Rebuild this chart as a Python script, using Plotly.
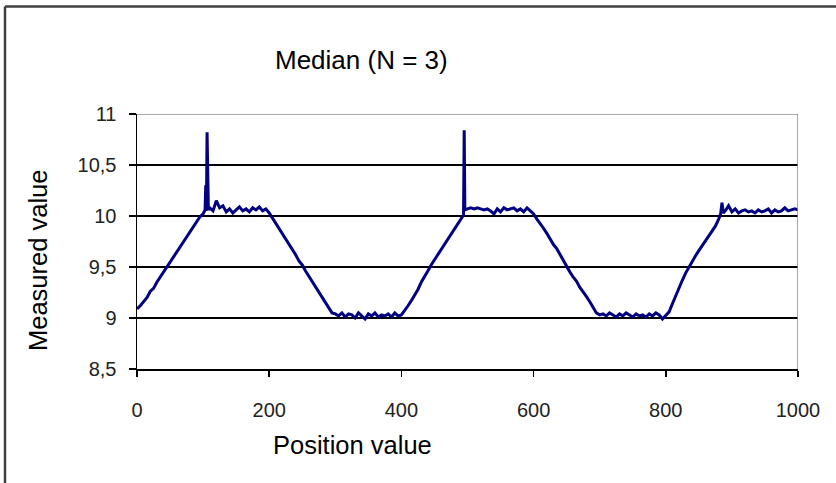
import plotly.graph_objects as go

position = [
    0, 5, 10, 15, 20, 25, 30, 35, 40, 45, 50, 55, 60, 65, 70, 75, 80, 85, 90, 95, 100,
    102, 103, 104, 105, 106, 107, 108, 110, 115, 120, 125, 130, 135, 140, 145, 150,
    155, 160, 165, 170, 175, 180, 185, 190, 195, 200,
    205, 210, 215, 220, 225, 230, 235, 240, 245, 250, 255, 260, 265, 270, 275, 280,
    285, 290, 295, 300,
    305, 310, 315, 320, 325, 330, 335, 340, 345, 350, 355, 360, 365, 370, 375, 380,
    385, 390, 395, 400,
    405, 410, 415, 420, 425, 430, 435, 440, 445, 450, 455, 460, 465, 470, 475, 480,
    485, 490, 494, 495, 496,
    500, 505, 510, 515, 520, 525, 530, 535, 540, 545, 550, 555, 560, 565, 570, 575,
    580, 585, 590, 595, 600,
    605, 610, 615, 620, 625, 630, 635, 640, 645, 650, 655, 660, 665, 670, 675, 680,
    685, 690, 695, 700,
    705, 710, 715, 720, 725, 730, 735, 740, 745, 750, 755, 760, 765, 770, 775, 780,
    785, 790, 795, 800,
    805, 810, 815, 820, 825, 830, 835, 840, 845, 850, 855, 860, 865, 870, 875, 880,
    883, 885, 887,
    890, 895, 900, 905, 910, 915, 920, 925, 930, 935, 940, 945, 950, 955, 960, 965,
    970, 975, 980, 985, 990, 995, 1000,
]
measured = [
    9.09, 9.12, 9.16, 9.20, 9.26, 9.29, 9.35, 9.40, 9.45, 9.50, 9.54, 9.60, 9.64, 9.70, 9.74, 9.79, 9.85, 9.90, 9.95, 9.99, 10.02,
    10.04, 10.06, 10.30, 10.05, 10.82, 10.50, 10.06, 10.08, 10.05, 10.15, 10.08, 10.10, 10.04, 10.07, 10.03, 10.06,
    10.09, 10.05, 10.07, 10.04, 10.08, 10.06, 10.09, 10.05, 10.07, 10.03,
    9.98, 9.92, 9.88, 9.82, 9.78, 9.72, 9.68, 9.62, 9.56, 9.52, 9.46, 9.41, 9.35, 9.31, 9.26, 9.21,
    9.16, 9.10, 9.05, 9.04,
    9.02, 9.05, 9.01, 9.04, 9.03, 9.00, 9.05, 9.02, 8.99, 9.04, 9.02, 9.05, 9.01, 9.03, 9.02, 9.04,
    9.01, 9.05, 9.02, 9.03,
    9.07, 9.12, 9.17, 9.22, 9.28, 9.35, 9.40, 9.46, 9.52, 9.57, 9.62, 9.68, 9.73, 9.78, 9.83, 9.88,
    9.92, 9.97, 10.01, 10.84, 10.06,
    10.07, 10.08, 10.07, 10.08, 10.07, 10.06, 10.07, 10.05, 10.02, 10.07, 10.04, 10.08, 10.06, 10.07, 10.08, 10.05,
    10.07, 10.04, 10.08, 10.05, 10.02,
    9.97, 9.93, 9.88, 9.83, 9.77, 9.72, 9.68, 9.62, 9.56, 9.50, 9.45, 9.40, 9.36, 9.30, 9.26, 9.21,
    9.16, 9.10, 9.05, 9.03,
    9.04, 9.02, 9.05, 9.03, 9.01, 9.04, 9.02, 9.05, 9.03, 9.01, 9.04, 9.02, 9.03, 9.01, 9.04, 9.02,
    9.05, 9.03, 8.99, 9.02,
    9.06, 9.14, 9.22, 9.30, 9.37, 9.44, 9.50, 9.55, 9.61, 9.66, 9.71, 9.76, 9.80, 9.85, 9.90, 9.97,
    10.02, 10.13, 10.03,
    10.05, 10.10, 10.04, 10.07, 10.03, 10.05, 10.06, 10.04, 10.05, 10.03, 10.06, 10.04, 10.05, 10.07, 10.03, 10.06,
    10.04, 10.05, 10.08, 10.05, 10.06, 10.07, 10.06,
]

x_tick_values = [0, 200, 400, 600, 800, 1000]
x_tick_labels = ["0", "200", "400", "600", "800", "1000"]
y_tick_values = [8.5, 9, 9.5, 10, 10.5, 11]
y_tick_labels = ["8,5", "9", "9,5", "10", "10,5", "11"]

title_text = "Median (N = 3)"
x_title = "Position value"
y_title = "Measured value"

W, H = 836, 483
L, R, T, B = 137, 38, 114, 114
pw, ph = W - L - R, H - T - B


def px(xp):
    return (xp - L) / pw


def py(yp):
    return (H - B - yp) / ph


fig = go.Figure()
fig.add_trace(go.Scatter(
    x=position, y=measured, mode="lines",
    line=dict(color="#000080", width=3),
    hoverinfo="skip", showlegend=False,
))

tick_font = dict(family="Liberation Sans, Arial", size=20, color="#222222")
title_font = dict(family="Liberation Sans, Arial, Helvetica", size=26, color="#000000")
label_font = dict(family="Liberation Sans, Arial, Helvetica", size=25.5, color="#000000")

fig.update_layout(
    width=W, height=H,
    margin=dict(l=L, r=R, t=T, b=B, pad=0),
    paper_bgcolor="white", plot_bgcolor="white",
    xaxis=dict(
        range=[0, 1000], tickvals=x_tick_values, ticktext=x_tick_labels,
        showgrid=False, zeroline=False,
        showline=True, linecolor="black", linewidth=1.5,
        ticks="outside", ticklen=6, tickwidth=1.5, tickcolor="black",
        tickfont=tick_font, ticklabelstandoff=16,
    ),
    yaxis=dict(
        range=[8.5, 11], tickvals=y_tick_values, ticktext=y_tick_labels,
        showgrid=True, gridcolor="black", gridwidth=1.5, zeroline=False,
        showline=True, linecolor="black", linewidth=1.5,
        ticks="outside", ticklen=7, tickwidth=1.5, tickcolor="black",
        tickfont=tick_font, ticklabelstandoff=8,
    ),
    annotations=[
        dict(text=title_text, xref="paper", yref="paper", x=px(361), y=py(60),
             xanchor="center", yanchor="middle", showarrow=False, font=title_font),
        dict(text=x_title, xref="paper", yref="paper", x=px(352), y=py(445),
             xanchor="center", yanchor="middle", showarrow=False, font=label_font),
        dict(text=y_title, xref="paper", yref="paper", x=px(38), y=py(261),
             xanchor="center", yanchor="middle", showarrow=False, textangle=-90, font=label_font),
    ],
    shapes=[
        # plot-area top and right borders (grey)
        dict(type="line", xref="x", yref="y", x0=0, x1=1000, y0=11, y1=11,
             line=dict(color="#8c8c8c", width=1.5), layer="above"),
        dict(type="line", xref="x", yref="y", x0=1000, x1=1000, y0=8.5, y1=11,
             line=dict(color="#8c8c8c", width=1.5), layer="above"),
        # chart outer border (left and top visible)
        dict(type="line", xref="paper", yref="paper", x0=px(5), x1=px(5), y0=py(6.5), y1=py(490),
             line=dict(color="#404040", width=2.5)),
        dict(type="line", xref="paper", yref="paper", x0=px(5), x1=px(840), y0=py(6.5), y1=py(6.5),
             line=dict(color="#404040", width=2.5)),
    ],
)

fig.write_html(
    "out.html",
    config={"displayModeBar": False, "staticPlot": True},
    post_script="document.body.style.margin='0';document.body.style.overflow='hidden';",
)
